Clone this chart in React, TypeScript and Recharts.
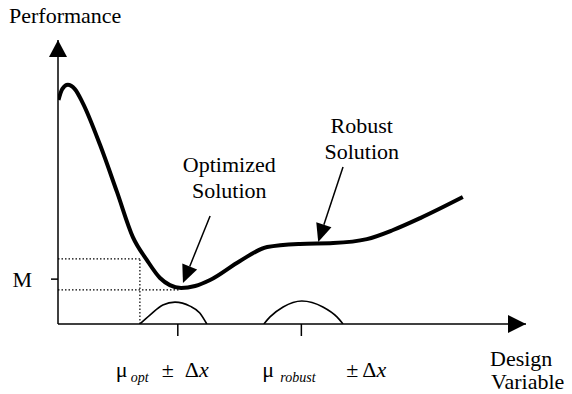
import React from "react";
import {
  LineChart,
  Line,
  XAxis,
  YAxis,
  ReferenceLine,
  ReferenceDot,
} from "recharts";

const FONT = '"Liberation Serif", "Times New Roman", serif';
const textStyle = { fontFamily: FONT, fontSize: 22 };

// performance curve, design variable 0-100 vs performance 0-100
const curveX = [0.1, 0.9, 2.1, 3.6, 5.3, 9.0, 12.6, 16.0, 19.0, 21.8, 23.9, 26.3, 29.3, 32.5, 38.9, 44.7, 51.7, 58.8, 66.0, 71.6, 77.4, 86.5];
const curveY = [78.9, 82.7, 84.2, 82.7, 77.8, 63.0, 46.5, 30.6, 22.5, 16.2, 13.7, 12.7, 13.4, 15.5, 22.2, 27.1, 28.2, 28.5, 29.9, 33.1, 37.3, 44.7];

// small variation humps around each solution
const optBumpX = [17.5, 19.7, 22.4, 25.0, 28.2, 30.3, 31.8];
const optBumpY = [0, 3.2, 6.7, 7.7, 6.3, 3.9, 0];
const robustBumpX = [44.0, 45.3, 48.1, 52.1, 56.6, 59.6, 60.9];
const robustBumpY = [0, 2.5, 6.0, 8.1, 6.0, 2.5, 0];

const xTicks = [25.6, 52.0];
const xTickSubs = ["opt", "robust"];
const yTicks = [15.8];
const yTickLabels = ["M"];

// dotted guides
const guideTop = 22.9;
const guideBottom = 12.0;
const guideLeftX = 17.5;
const guideMinX = 26.1;

const noteTexts = [["Optimized", "Solution"], ["Robust", "Solution"]];
const noteX = [36.6, 64.9];
const noteY = [53.5, 67.3];

const arrowFrom = [{ x: 32.5, y: 38.0 }, { x: 60.9, y: 55.3 }];
const arrowTo = [{ x: 26.7, y: 14.4 }, { x: 55.6, y: 28.9 }];

const zip = (xs: number[], ys: number[]) => xs.map((x, i) => ({ x, y: ys[i] }));
const curve = zip(curveX, curveY);
const optBump = zip(optBumpX, optBumpY);
const robustBump = zip(robustBumpX, robustBumpY);

const tickLayout = [
  { mu: -62, sub: -47, pm: -16, delta: 7 },
  { mu: -39, sub: -21, pm: 45, delta: 61 },
];

const XTick = (props: any) => {
  const { x, y, payload } = props;
  const i = xTicks.indexOf(payload.value);
  if (i < 0) return null;
  const o = tickLayout[i];
  const base = y + 41;
  return (
    <text style={textStyle} fill="#000">
      <tspan x={x + o.mu} y={base}>μ</tspan>
      <tspan x={x + o.sub} y={base + 5} style={{ fontSize: 14, fontStyle: "italic" }}>
        {xTickSubs[i]}
      </tspan>
      <tspan x={x + o.pm} y={base}>±</tspan>
      <tspan x={x + o.delta} y={base}>Δ</tspan>
      <tspan style={{ fontStyle: "italic" }}>x</tspan>
    </text>
  );
};

const YTick = (props: any) => {
  const { x, y, payload } = props;
  const i = yTicks.indexOf(payload.value);
  return (
    <text x={x - 17} y={y + 8} textAnchor="end" style={textStyle} fill="#000">
      {yTickLabels[i]}
    </text>
  );
};

const arrowLine = (props: any) => {
  const { x1, y1, x2, y2 } = props;
  const a = Math.atan2(y2 - y1, x2 - x1);
  const len = 18;
  const hw = 8;
  const bx = x2 - len * Math.cos(a);
  const by = y2 - len * Math.sin(a);
  const px = -Math.sin(a) * hw;
  const py = Math.cos(a) * hw;
  return (
    <g>
      <line x1={x1} y1={y1} x2={bx} y2={by} stroke="#000" strokeWidth={1.5} />
      <polygon points={`${x2},${y2} ${bx + px},${by + py} ${bx - px},${by - py}`} fill="#000" />
    </g>
  );
};

const upHead = (p: any) => (
  <polygon points={`${p.cx},${p.cy} ${p.cx - 9},${p.cy + 17} ${p.cx + 9},${p.cy + 17}`} fill="#000" />
);
const rightHead = (p: any) => (
  <polygon points={`${p.cx},${p.cy} ${p.cx - 18},${p.cy - 9} ${p.cx - 18},${p.cy + 9}`} fill="#000" />
);

const noteShape = (lines: string[]) => (p: any) => (
  <text textAnchor="middle" style={textStyle} fill="#000">
    {lines.map((t, k) => (
      <tspan key={k} x={p.cx} y={p.cy + k * 26}>{t}</tspan>
    ))}
  </text>
);

const yTitle = (props: any) => {
  const vb = props.viewBox;
  return (
    <text x={vb.x + 9} y={vb.y - 17} style={textStyle} fill="#000">
      Performance
    </text>
  );
};

const xTitle = (props: any) => {
  const vb = props.viewBox;
  const right = vb.x + vb.width;
  return (
    <text style={textStyle} fill="#000">
      <tspan x={right - 36} y={vb.y + 42}>Design</tspan>
      <tspan x={right - 35} y={vb.y + 65}>Variable</tspan>
    </text>
  );
};

export default function App() {
  return (
    <div style={{ position: "absolute", left: 0, top: 0, background: "#fff" }}>
      <LineChart width={572} height={394} margin={{ top: 40, right: 46, bottom: 0, left: 0 }}>
        <XAxis
          dataKey="x"
          type="number"
          domain={[0, 100]}
          ticks={xTicks}
          tickSize={12}
          tickMargin={0}
          tick={XTick}
          tickLine={{ stroke: "#000", strokeWidth: 1.5 }}
          axisLine={{ stroke: "#000", strokeWidth: 1.5 }}
          height={70}
          label={{ content: xTitle }}
          allowDataOverflow
        />
        <YAxis
          type="number"
          domain={[0, 100]}
          ticks={yTicks}
          tickSize={7}
          tick={YTick}
          tickLine={{ stroke: "#000", strokeWidth: 1.5 }}
          axisLine={{ stroke: "#000", strokeWidth: 1.5 }}
          width={58}
          label={{ content: yTitle }}
          allowDataOverflow
        />
        <ReferenceLine
          segment={[{ x: 0, y: guideTop }, { x: guideLeftX, y: guideTop }]}
          stroke="#000"
          strokeWidth={1.2}
          strokeDasharray="1.5 2"
        />
        <ReferenceLine
          segment={[{ x: guideLeftX, y: 0 }, { x: guideLeftX, y: guideTop }]}
          stroke="#000"
          strokeWidth={1.2}
          strokeDasharray="1.5 2"
        />
        <ReferenceLine
          segment={[{ x: 0, y: guideBottom }, { x: guideMinX, y: guideBottom }]}
          stroke="#000"
          strokeWidth={1.2}
          strokeDasharray="1.5 2"
        />
        <Line
          data={optBump}
          dataKey="y"
          type="monotone"
          stroke="#000"
          strokeWidth={1.6}
          dot={false}
          isAnimationActive={false}
        />
        <Line
          data={robustBump}
          dataKey="y"
          type="monotone"
          stroke="#000"
          strokeWidth={1.6}
          dot={false}
          isAnimationActive={false}
        />
        <Line
          data={curve}
          dataKey="y"
          type="monotone"
          stroke="#000"
          strokeWidth={4}
          dot={false}
          isAnimationActive={false}
        />
        {arrowFrom.map((f, i) => (
          <ReferenceLine key={`a${i}`} segment={[f, arrowTo[i]]} shape={arrowLine} ifOverflow="visible" />
        ))}
        {noteTexts.map((lines, i) => (
          <ReferenceDot key={`n${i}`} x={noteX[i]} y={noteY[i]} r={1} shape={noteShape(lines)} ifOverflow="visible" />
        ))}
        <ReferenceDot x={0} y={100} r={1} shape={upHead} ifOverflow="visible" />
        <ReferenceDot x={100} y={0} r={1} shape={rightHead} ifOverflow="visible" />
      </LineChart>
    </div>
  );
}
